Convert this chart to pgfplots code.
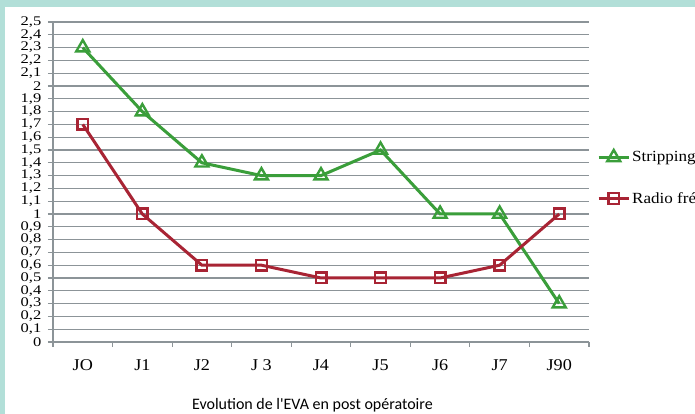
\documentclass[border=0pt]{standalone}
\usepackage{fontspec}
\setmainfont{Liberation Serif}
\newfontfamily\tickfont{Liberation Serif}
\newfontfamily\catfont[FakeStretch=1.1]{Liberation Serif}
\newfontfamily\labfont{Carlito}
\usepackage{graphicx}
\usepackage{pgfplots}
\pgfplotsset{compat=1.18}
\definecolor{bgteal}{HTML}{B2DFD8}
\definecolor{sgreen}{RGB}{58,158,58}
\definecolor{rred}{RGB}{168,36,52}
\definecolor{gridgray}{RGB}{140,148,152}
\begin{document}
\begin{tikzpicture}[x=1pt,y=1pt]
\useasboundingbox (0,0) rectangle (695,414);
\fill[white] (0,0) rectangle (695,414);
\fill[bgteal] (0,407) rectangle (695,414);
\fill[bgteal] (0,0) rectangle (5,414);
\clip (0,0) rectangle (695,414);
\begin{axis}[
  at={(53pt,72pt)}, anchor=south west, scale only axis,
  width=536pt, height=320pt,
  xmin=-0.5, xmax=8.5, ymin=0, ymax=2.5,
  axis x line*=bottom, axis y line*=left,
  axis line style={gridgray, line width=1.2pt, -},
  tick align=outside,
  xtick={0,...,8},
  xticklabels={JO,J1,J2,J 3,J4,J5,J6,J7,J90},
  major x tick style={draw=none},
  minor xtick={-0.5,0.5,...,8.5},
  minor tick length=5pt, major tick length=5pt,
  every tick/.style={gridgray, line width=1.2pt},
  ytick={0,0.1,0.2,0.3,0.4,0.5,0.6,0.7,0.8,0.9,1,1.1,1.2,1.3,1.4,1.5,1.6,1.7,1.8,1.9,2,2.1,2.2,2.3,2.4,2.5},
  ymajorgrids, major grid style={gridgray, line width=1.2pt},
  /pgf/number format/assume math mode=true,
  /pgf/number format/use comma,
  /pgf/number format/fixed,
  yticklabel={\scalebox{1.25}[1]{\pgfmathprintnumber{\tick}}},
  yticklabel style={font=\tickfont\fontsize{13.2}{13.2}\selectfont, inner sep=0.5pt, xshift=-6pt},
  xticklabel style={font=\catfont\fontsize{16.5}{16.5}\selectfont, yshift=-9pt},
  xlabel={Evolution de l'EVA en post opératoire},
  xlabel style={font=\labfont\fontsize{16}{16}\selectfont, at={(axis description cs:0.484,-0.197)}, anchor=center},
  legend style={at={(axis description cs:1.015,0.602)}, anchor=north west, draw=none, fill=none,
    font=\catfont\fontsize{15.5}{15.5}\selectfont, row sep=25pt, inner sep=0pt,
    /tikz/every even column/.append style={column sep=0pt}},
  legend cell align=left,
  legend image code/.code={\draw[mark repeat=2,mark phase=2] plot coordinates {(0pt,0pt)(15pt,0pt)(30pt,0pt)};},
]
\addplot[sgreen, line width=3pt, mark=triangle, mark size=7.5pt, mark options={solid, fill=white, line width=2.4pt}]
  coordinates {(0,2.3) (1,1.8) (2,1.4) (3,1.3) (4,1.3) (5,1.5) (6,1.0) (7,1.0) (8,0.3)};
\addlegendentry{Stripping}
\addplot[rred, line width=3pt, mark=square, mark size=5.3pt, mark options={solid, fill=white, line width=2.4pt}]
  coordinates {(0,1.7) (1,1.0) (2,0.6) (3,0.6) (4,0.5) (5,0.5) (6,0.5) (7,0.6) (8,1.0)};
\addlegendentry{Radio fréquence}
\end{axis}
\end{tikzpicture}
\end{document}
